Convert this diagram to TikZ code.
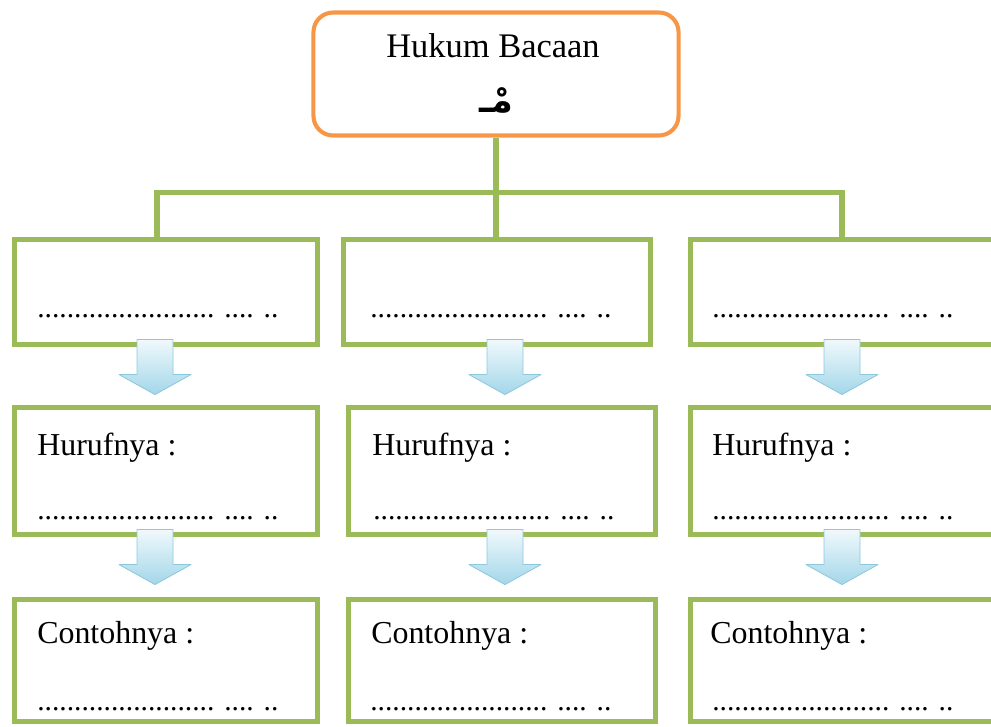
\documentclass[tikz,border=0pt]{standalone}
\usepackage{fontspec}
\setmainfont{Liberation Serif}
\newfontfamily\arabicfont[Script=Arabic]{DejaVu Sans}
\TeXXeTstate=1
\usepackage{tikz}
\usetikzlibrary{calc}
\definecolor{hijau}{HTML}{9BBB59}
\definecolor{oranye}{HTML}{F79646}
\definecolor{birumuda}{HTML}{A3D6E9}
\definecolor{biruputih}{HTML}{F0F9FC}
\definecolor{birugaris}{HTML}{8EC8DD}
\tikzset{
  x=0.025cm, y=-0.025cm,
  judulbox/.style={draw=oranye, line width=2.9pt, rounded corners=14pt, fill=white, minimum width=9.125cm, minimum height=3.075cm},
  kotak/.style={draw=hijau, line width=3.6pt, fill=white, minimum width=7.575cm},
  baris1/.style={kotak, minimum height=2.625cm},
  baris2/.style={kotak, minimum height=3.175cm},
  baris3/.style={kotak, minimum height=3.05cm},
  garis/.style={draw=hijau, line width=3.6pt},
  panah/.style={draw=birugaris, line width=0.6pt, line join=round, top color=biruputih, bottom color=birumuda},
  tulisan/.style={anchor=base west, inner sep=0pt, font=\fontsize{22.7}{27}\selectfont},
  isian/.style={anchor=base west, inner sep=0pt, font=\fontsize{21}{25}\selectfont},
}
% block arrow, #1 = top centre of the shaft
\newcommand{\panah}[1]{%
  \draw[panah] ($#1+(-18,0)$) -- ++(36,0) -- ++(0,35) -- ++(18,0) -- ++(-36,20) -- ++(-36,-20) -- ++(18,0) -- cycle;}

\begin{document}
\begin{tikzpicture}
  \useasboundingbox (0,0) rectangle (991,726);
  % heading
  \node[judulbox] (hukum) at (496,74) {};
  \node[anchor=base, inner sep=0pt, font=\fontsize{24.5}{29}\selectfont] (judul) at (493,57) {Hukum Bacaan};
  \node[anchor=base, inner sep=0pt, font=\fontsize{25}{30}\selectfont] (mim) at (496,112) {\arabicfont\bfseries\beginR مْـ\endR};
  % three columns
  \node[baris1] (jenis1) at (166,292) {};
  \node[baris1, minimum width=7.65cm] (jenis2) at (497,292) {};
  \node[baris1] (jenis3) at (842,292) {};
  \node[baris2] (huruf1) at (166,471) {};
  \node[baris2, minimum width=7.675cm] (huruf2) at (502,471) {};
  \node[baris2] (huruf3) at (842,471) {};
  \node[baris3] (contoh1) at (166,660.5) {};
  \node[baris3, minimum width=7.675cm] (contoh2) at (502,660.5) {};
  \node[baris3] (contoh3) at (842,660.5) {};
  % branches
  \draw[garis] (hukum.south) -- ++(0,55) coordinate (cabang);
  \draw[garis] ([xshift=-6.4pt]jenis1.north) |- (cabang) -| (jenis3.north);
  \draw[garis] (cabang) -- (cabang |- jenis2.north);
  % arrows
  \panah{(jenis1.south)+(-11,-7.5)}
  \panah{(jenis2.south)+(8,-7.5)}
  \panah{(jenis3.south)+(0,-7.5)}
  \panah{(huruf1.south)+(-11,-7.5)}
  \panah{(huruf2.south)+(3,-7.5)}
  \panah{(huruf3.south)+(0,-7.5)}
  % texts
  \node[isian] (isi1) at (37,317) {........................ .... ..};
  \node[isian] (isi2) at (370,317) {........................ .... ..};
  \node[isian] (isi3) at (712,317) {........................ .... ..};
  \node[tulisan] (th1) at (37,455) {Hurufnya :};
  \node[tulisan] (th2) at (372,455) {Hurufnya :};
  \node[tulisan] (th3) at (712,455) {Hurufnya :};
  \node[isian] (isi4) at (37,519) {........................ .... ..};
  \node[isian] (isi5) at (373,519) {........................ .... ..};
  \node[isian] (isi6) at (712,519) {........................ .... ..};
  \node[tulisan] (tc1) at (37,643) {Contohnya :};
  \node[tulisan] (tc2) at (371,643) {Contohnya :};
  \node[tulisan] (tc3) at (710,643) {Contohnya :};
  \node[isian] (isi7) at (37,710) {........................ .... ..};
  \node[isian] (isi8) at (370,710) {........................ .... ..};
  \node[isian] (isi9) at (712,710) {........................ .... ..};
\end{tikzpicture}
\end{document}
